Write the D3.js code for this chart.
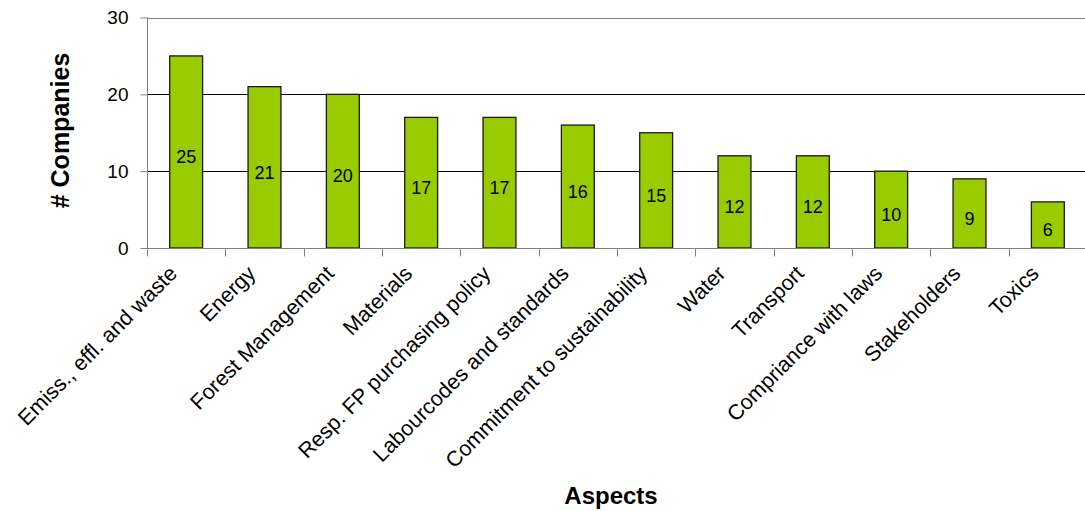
<!DOCTYPE html>
<html>
<head>
<meta charset="utf-8">
<script src="https://cdn.jsdelivr.net/npm/d3@7"></script>
<style>
  html, body { margin: 0; padding: 0; background: #fff; }
  svg { display: block; font-family: "Liberation Sans", Arial, sans-serif; }
</style>
</head>
<body>
<svg id="chart" width="1085" height="511"></svg>
<script>
// Number of companies reporting on each sustainability aspect
const aspects = [
  "Emiss., effl. and waste",
  "Energy",
  "Forest Management",
  "Materials",
  "Resp. FP purchasing policy",
  "Labourcodes and standards",
  "Commitment to sustainability",
  "Water",
  "Transport",
  "Compriance with laws",
  "Stakeholders",
  "Toxics"
];
const companies = [25, 21, 20, 17, 17, 16, 15, 12, 12, 10, 9, 6];
const yTicks = [0, 10, 20, 30];

const svg = d3.select("#chart");
const margin = { left: 147, top: 17.5, right: -2, bottom: 263 };
const W = 1085, H = 511;
const x0 = margin.left, x1 = W - margin.right;
const y0 = H - margin.bottom, y1 = margin.top;

const x = d3.scaleBand().domain(aspects).range([x0, x1]).paddingInner(0.58).paddingOuter(0.29);
const xb = d3.scaleBand().domain(aspects).range([x0, x1]);
const y = d3.scaleLinear().domain([0, 30]).range([y0, y1]);

// horizontal gridlines
svg.append("g")
  .selectAll("line")
  .data(yTicks.filter(t => t > 0 && t < 30))
  .join("line")
  .attr("x1", x0).attr("x2", x1)
  .attr("y1", d => Math.round(y(d)) + 0.5).attr("y2", d => Math.round(y(d)) + 0.5)
  .attr("stroke", "#000").attr("stroke-width", 1);

// top border of plot area
svg.append("line")
  .attr("x1", x0).attr("x2", x1)
  .attr("y1", Math.round(y(30)) + 0.5).attr("y2", Math.round(y(30)) + 0.5)
  .attr("stroke", "#808080").attr("stroke-width", 1);

// bars
svg.append("g")
  .selectAll("rect")
  .data(aspects)
  .join("rect")
  .attr("x", d => x(d))
  .attr("width", x.bandwidth())
  .attr("y", (d, i) => y(companies[i]))
  .attr("height", (d, i) => y0 - y(companies[i]))
  .attr("fill", "#99cc00")
  .attr("stroke", "#1a1a1a")
  .attr("stroke-width", 1.3);

// value labels
svg.append("g")
  .selectAll("text")
  .data(aspects)
  .join("text")
  .attr("x", d => x(d) + x.bandwidth() / 2)
  .attr("y", (d, i) => (y(companies[i]) + y0) / 2 + 5)
  .attr("dy", "0.35em")
  .attr("text-anchor", "middle")
  .attr("font-size", 18)
  .attr("fill", "#000")
  .text((d, i) => companies[i]);

// y axis
const yAxis = svg.append("g")
  .attr("transform", `translate(${x0 + 0.5},0)`)
  .call(d3.axisLeft(y).tickValues(yTicks).tickSize(7).tickPadding(12).tickFormat(d3.format("d")));
yAxis.select(".domain").attr("stroke", "#808080").attr("d", `M0,${y1}V${y0}`);
yAxis.selectAll(".tick line").attr("stroke", "#808080");
yAxis.selectAll(".tick text").attr("font-size", 19).attr("fill", "#000")
  .attr("font-family", "Liberation Sans, Arial, sans-serif");

// x axis: ticks at category boundaries
const xg = svg.append("g").attr("transform", `translate(0,${Math.round(y0) + 0.5})`);
xg.append("line").attr("x1", x0).attr("x2", x1).attr("stroke", "#808080");
xg.selectAll("line.tk")
  .data(aspects.concat([null]))
  .join("line")
  .attr("class", "tk")
  .attr("x1", (d, i) => Math.round(i < aspects.length ? xb(d) : x1) + 0.5)
  .attr("x2", (d, i) => Math.round(i < aspects.length ? xb(d) : x1) + 0.5)
  .attr("y1", 0).attr("y2", 8)
  .attr("stroke", "#808080");

// rotated category labels
xg.selectAll("text")
  .data(aspects)
  .join("text")
  .attr("transform", d => `translate(${xb(d) + xb.bandwidth() / 2 - 13},21) rotate(-45)`)
  .attr("text-anchor", "end")
  .attr("dy", "0.35em")
  .attr("font-size", 21.5)
  .attr("fill", "#000")
  .text(d => d);

// axis titles
svg.append("text")
  .attr("transform", `translate(69,${(48 + 213) / 2}) rotate(-90)`)
  .attr("text-anchor", "middle")
  .attr("font-size", 25)
  .attr("font-weight", "bold")
  .text("# Companies");

svg.append("text")
  .attr("x", 611).attr("y", 504)
  .attr("text-anchor", "middle")
  .attr("font-size", 24)
  .attr("font-weight", "bold")
  .text("Aspects");
</script>
</body>
</html>
